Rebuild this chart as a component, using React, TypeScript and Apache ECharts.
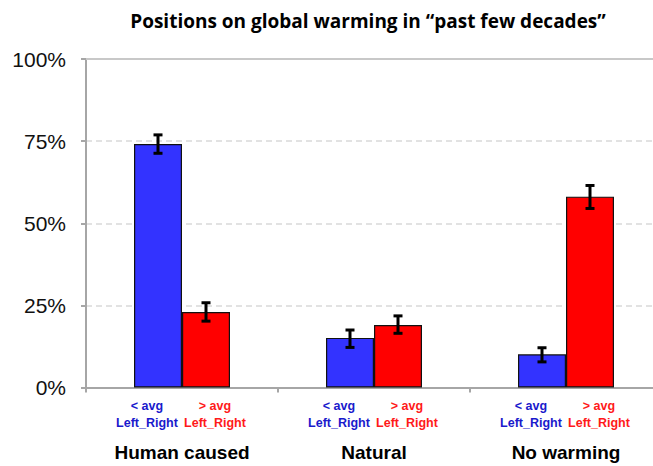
import React, { useEffect, useRef } from "react";
import * as echarts from "echarts";

const categories = ["Human caused", "Natural", "No warming"];
const groupLabels = ["< avg", "> avg"];
const subLabel = "Left_Right";
const belowAvg = [74.1, 15.1, 10.1];
const aboveAvg = [23.0, 19.0, 58.1];
const belowLow = [71.3, 12.2, 7.8];
const belowHigh = [76.9, 17.5, 12.1];
const aboveLow = [20.2, 16.5, 54.5];
const aboveHigh = [25.8, 21.8, 61.5];
const yTicks = [0, 25, 50, 75, 100];
const title = "Positions on global warming in \u201Cpast few decades\u201D";

const BLUE = "#3333ff";
const RED = "#ff0000";
const AXIS = "#a6a6a6";
const FONT = "Liberation Sans, Arial, sans-serif";

export default function App() {
  const ref = useRef<HTMLDivElement>(null);
  useEffect(() => {
    document.body.style.margin = "0";
    const chart = echarts.init(ref.current!, null, { renderer: "svg" });
    const subCats: string[] = [];
    categories.forEach((_, i) => {
      subCats.push("", `${i}-0`, `${i}-1`, "");
    });
    const errData: number[][] = [];
    categories.forEach((_, i) => {
      errData.push([i, belowLow[i], belowHigh[i], 0]);
      errData.push([i, aboveLow[i], aboveHigh[i], 1]);
    });
    const richBase = {
      fontWeight: "bold",
      fontSize: 12.5,
      lineHeight: 17,
      fontFamily: FONT,
    };
    chart.setOption({
      animation: false,
      graphic: [
        {
          type: "text",
          x: 368,
          y: 21,
          style: {
            text: title,
            font: "bold 19px 'Open Sans', sans-serif",
            fill: "#000",
            textAlign: "center",
            textVerticalAlign: "middle",
          },
        },
      ],
      grid: { left: 86, right: 0, top: 59, bottom: 78.5 },
      xAxis: [
        {
          type: "category",
          data: categories,
          axisLine: { lineStyle: { color: AXIS, width: 2 } },
          axisTick: { show: true, length: 5, lineStyle: { color: AXIS, width: 2 } },
          axisLabel: {
            margin: 55,
            color: "#000",
            fontFamily: FONT,
            fontWeight: "bold",
            fontSize: 19,
          },
        },
        {
          type: "category",
          data: subCats,
          position: "bottom",
          axisLine: { show: false },
          axisTick: { show: false },
          axisLabel: {
            interval: 0,
            margin: 10,
            formatter: (v: string) => {
              if (!v) return "";
              const k = Number(v.split("-")[1]);
              const st = k === 0 ? "b" : "r";
              return `{${st}|${groupLabels[k]}}\n{${st}|${subLabel}}`;
            },
            rich: {
              b: { ...richBase, color: "#1a1acc", padding: [0, 22, 0, 0] },
              r: { ...richBase, color: "#ff1a1a", padding: [0, 0, 0, 18] },
            },
          },
        },
        {
          type: "category",
          data: categories,
          position: "top",
          axisLine: { show: true, lineStyle: { color: "#c8c8c8", width: 2 } },
          axisTick: { show: false },
          axisLabel: { show: false },
        },
      ],
      yAxis: {
        type: "value",
        min: yTicks[0],
        max: yTicks[yTicks.length - 1],
        interval: 25,
        axisLine: { show: true, lineStyle: { color: AXIS, width: 2 } },
        axisTick: { show: true, length: 5, lineStyle: { color: AXIS, width: 2 } },
        axisLabel: {
          formatter: "{value}%",
          margin: 20,
          color: "#111",
          fontSize: 21,
          fontFamily: FONT,
        },
        splitLine: {
          show: true,
          lineStyle: { color: "#d9d9d9", type: [6, 4], width: 1.5 },
        },
      },
      series: [
        {
          type: "bar",
          data: belowAvg,
          barGap: "0%",
          barCategoryGap: "50%",
          itemStyle: { color: BLUE, borderColor: "#111", borderWidth: 1.2 },
        },
        {
          type: "bar",
          data: aboveAvg,
          barGap: "0%",
          barCategoryGap: "50%",
          itemStyle: { color: RED, borderColor: "#111", borderWidth: 1.2 },
        },
        {
          type: "custom",
          data: errData,
          z: 10,
          renderItem: (params: any, api: any) => {
            const cat = api.value(0);
            const k = api.value(3);
            const catW = api.size([1, 0])[0];
            const barW = catW / 4;
            const off = (k === 0 ? -0.5 : 0.5) * barW;
            const lo = api.coord([cat, api.value(1)]);
            const hi = api.coord([cat, api.value(2)]);
            const x = lo[0] + off;
            const cap = 4.5;
            const style = { stroke: "#000", lineWidth: 3 };
            return {
              type: "group",
              children: [
                { type: "line", shape: { x1: x, y1: lo[1], x2: x, y2: hi[1] }, style },
                { type: "line", shape: { x1: x - cap, y1: lo[1], x2: x + cap, y2: lo[1] }, style },
                { type: "line", shape: { x1: x - cap, y1: hi[1], x2: x + cap, y2: hi[1] }, style },
              ],
            };
          },
        },
      ],
    });
    return () => chart.dispose();
  }, []);
  return (
    <div style={{ width: 653, height: 466, overflow: "hidden" }}>
      <div ref={ref} style={{ width: 662, height: 466 }} />
    </div>
  );
}
